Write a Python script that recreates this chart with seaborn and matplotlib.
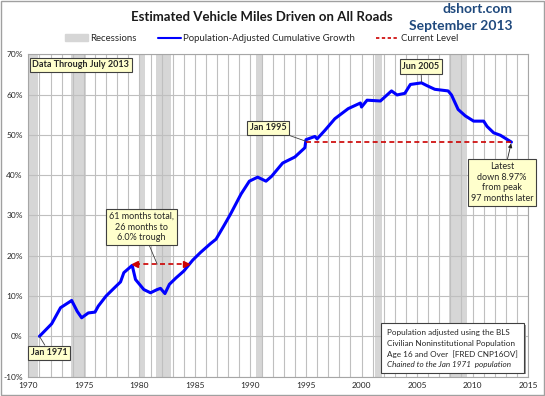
import pandas as pd
import matplotlib.pyplot as plt
import matplotlib.patches as mpatches
from matplotlib.lines import Line2D
import seaborn as sns

# Population-adjusted cumulative growth of vehicle miles
years = [1971.0, 1972.1, 1972.9, 1973.8, 1973.9, 1974.4, 1974.8, 1975.4, 1976.0, 1976.3,
         1977.0, 1977.7, 1978.3, 1978.6, 1979.35, 1979.65, 1980.4, 1981.0, 1981.6, 1981.9,
         1982.3, 1982.7, 1983.3, 1984.0, 1984.8, 1985.5, 1986.4, 1986.9, 1987.6, 1988.2,
         1989.15, 1989.9, 1990.65, 1991.4, 1991.9, 1992.9, 1994.0, 1994.9, 1995.0, 1995.8,
         1996.0, 1996.7, 1997.6, 1998.8, 1999.9, 2000.0, 2000.5, 2001.7, 2002.7, 2003.2,
         2003.9, 2004.4, 2005.4, 2005.9, 2006.6, 2007.8, 2008.1, 2008.7, 2009.35, 2010.1,
         2011.0, 2011.3, 2011.9, 2012.5, 2013.5]
growth = [0.0, 3.1, 7.1, 8.7, 8.9, 6.2, 4.6, 5.8, 6.0, 7.5,
          10.0, 11.9, 13.5, 15.8, 17.6, 14.1, 11.6, 10.8, 11.6, 11.9,
          10.6, 12.9, 14.5, 16.2, 18.9, 20.8, 23.0, 24.1, 27.4, 30.3,
          35.3, 38.5, 39.5, 38.5, 39.7, 43.0, 44.5, 46.8, 48.8, 49.6,
          49.0, 51.1, 54.0, 56.5, 57.9, 56.9, 58.6, 58.4, 60.9, 59.9,
          60.3, 62.5, 62.9, 62.2, 61.3, 60.9, 59.9, 56.3, 54.7, 53.4,
          53.4, 52.1, 50.5, 49.9, 48.2]

# NBER recessions (start, end)
rec_start = [1969.92, 1973.83, 1980.0, 1981.5, 1990.5, 2001.17, 2007.92]
rec_end = [1970.83, 1975.17, 1980.5, 1982.83, 1991.17, 2001.83, 2009.5]

current_level = 48.2
level_start = 1995.0
trough_arrow = [1979.6, 1984.2]
trough_level = 17.9

note_lines = ["Population adjusted using the BLS",
              "Civilian Noninstitutional Population",
              "Age 16 and Over  [FRED CNP16OV]",
              "Chained to the Jan 1971  population"]

df = pd.DataFrame({"year": years, "growth": growth})

sns.set_style("white")
plt.rcParams['font.family'] = ['Lato', 'DejaVu Sans']

fig = plt.figure(figsize=(5.45, 3.96), dpi=100)
ax = fig.add_axes([0.052, 0.049, 0.917, 0.814])

for s, e in zip(rec_start, rec_end):
    ax.axvspan(max(s, 1970), e, color='#D6D6D6', lw=0, zorder=0)

sns.lineplot(data=df, x="year", y="growth", color='#0000FF', lw=2.2, ax=ax, zorder=3)

ax.plot([level_start, years[-1]], [current_level, current_level], color='#CC0000',
        lw=1.2, ls=(0, (3, 2)), zorder=4)
ax.plot(trough_arrow, [trough_level, trough_level], color='#CC0000', lw=1.2,
        ls=(0, (3, 2)), zorder=4)
ax.plot([trough_arrow[0]], [trough_level], marker='<', color='#CC0000', ms=4, zorder=4)
ax.plot([trough_arrow[1]], [trough_level], marker='>', color='#CC0000', ms=4, zorder=4)

ax.set_xlim(1970, 2015)
ax.set_ylim(-10, 70)
ax.set_xticks(range(1970, 2016, 5))
ax.set_xticks(range(1970, 2016), minor=True)
ax.set_yticks(range(-10, 71, 10))
ax.set_yticklabels([f"{v}%" for v in range(-10, 71, 10)])
ax.grid(True, which='both', color='#BFBFBF', lw=0.8)
ax.set_axisbelow(True)
ax.tick_params(length=0, labelsize=6, pad=4)
ax.set_xlabel("")
ax.set_ylabel("")
for sp in ax.spines.values():
    sp.set_color('#A6A6A6')
    sp.set_linewidth(0.8)

box = dict(boxstyle='square,pad=0.3', fc='#FFFFCC', ec='#404040', lw=0.8)
line = dict(arrowstyle='-', color='#404040', lw=0.6, shrinkA=0, shrinkB=0)

ax.text(1970.35, 67.4, "Data Through July 2013", fontsize=6.5, fontweight='bold',
        va='center', ha='left', bbox=box, zorder=6)
ax.annotate("Jun 2005", xy=(2005.4, 63.1), xytext=(2005.35, 67.0), fontsize=6.5,
            fontweight='bold', ha='center', va='center', bbox=box, arrowprops=line, zorder=6)
ax.annotate("Jan 1995", xy=(1995.0, 48.4), xytext=(1991.6, 51.7), fontsize=6.5,
            fontweight='bold', ha='center', va='center', bbox=box, arrowprops=line, zorder=6)
ax.annotate("Jan 1971", xy=(1971.0, 0), xytext=(1971.9, -4.1), fontsize=6.5,
            fontweight='bold', ha='center', va='center', bbox=box, arrowprops=line, zorder=6)
ax.annotate("61 months total,\n26 months to\n6.0% trough", xy=(1981.6, trough_level),
            xytext=(1980.2, 27.1), fontsize=6.5, ha='center', va='center',
            linespacing=1.25, bbox=box, arrowprops=line, zorder=6)
ax.annotate("Latest\ndown 8.97%\nfrom peak\n97 months later", xy=(2013.5, current_level),
            xytext=(2012.65, 38.2), fontsize=6.5, ha='center', va='center', linespacing=1.25,
            bbox=box, arrowprops=dict(arrowstyle='-|>', color='#202020', lw=0.6,
                                      mutation_scale=6, shrinkA=0, shrinkB=1), zorder=6)

# note box, bottom right
ax.add_patch(mpatches.Rectangle((2001.95, -9.3), 12.85, 12.2, fc='#9A9A9A', ec='none', zorder=5))
ax.add_patch(mpatches.Rectangle((2001.75, -9.0), 12.85, 12.2, fc='white', ec='#404040',
                                lw=0.8, zorder=5))
for i, (txt, yv) in enumerate(zip(note_lines, [1.0, -1.7, -4.4, -7.1])):
    ax.text(2002.3, yv, txt, fontsize=5.9, ha='left', va='center', zorder=6,
            style='italic' if i == 3 else 'normal')

fig.text(0.48, 0.957, "Estimated Vehicle Miles Driven on All Roads", fontsize=9.5,
         fontweight='bold', ha='center', va='center', color='#1A1A1A')
fig.text(0.94, 0.977, "dshort.com", fontsize=10, fontweight='bold', ha='right',
         va='center', color='#1F497D')
fig.text(0.94, 0.935, "September 2013", fontsize=10, fontweight='bold', ha='right',
         va='center', color='#1F497D')

handles = [mpatches.Patch(color='#D6D6D6', label='Recessions'),
           Line2D([], [], color='#0000FF', lw=1.5, label='Population-Adjusted Cumulative Growth'),
           Line2D([], [], color='#CC0000', lw=1.2, ls=(0, (2, 1.5)), label='Current Level')]
fig.legend(handles=handles, loc='center', bbox_to_anchor=(0.48, 0.903), ncol=3, frameon=False,
           fontsize=6.9, handlelength=2.4, handleheight=0.6, columnspacing=2.2, handletextpad=0.2)

fig.add_artist(mpatches.Rectangle((0.002, 0.002), 0.996, 0.996, transform=fig.transFigure,
                                  fill=False, ec='#A0A0A0', lw=1))

plt.savefig("out.png", dpi=100)
